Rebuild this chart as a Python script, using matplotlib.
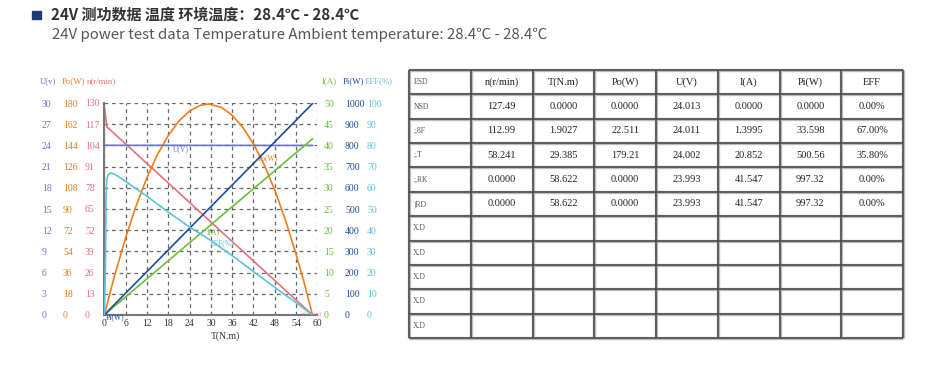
import numpy as np
import matplotlib
matplotlib.use('Agg')
import matplotlib.pyplot as plt
from matplotlib.patches import Rectangle

# ---- curve data (T in N.m) ----
T_n = [0, 0.7, 1.9027, 29.385, 58.622]
n_val = [127.49, 115.4, 112.99, 58.241, 0]

T_po = [0, 1.9027, 3, 6, 9, 12, 15, 18, 21, 24, 27, 29.385, 33, 36, 39, 42, 45, 48, 51, 54, 56, 58.622]
po_val = [0, 22.511, 34.8, 65.8, 93.2, 116.8, 136.5, 152.5, 164.7, 173.2, 178.0, 179.21, 176.2,
          169.6, 159.3, 145.2, 127.6, 106.0, 80.6, 51.5, 30.4, 0]

T_u = [0, 1.9027, 29.385, 58.622]
u_val = [24.013, 24.011, 24.002, 23.993]

T_i = [0, 1.9027, 29.385, 58.622]
i_val = [0, 1.3995, 20.852, 41.547]

T_pi = [0, 1.9027, 29.385, 58.622]
pi_val = [0, 33.598, 500.56, 997.32]

T_eff = [0, 0.35, 0.45, 0.65, 1.0, 1.7, 3, 6, 12, 18, 24, 29.385, 36, 42, 48, 54, 58.622]
eff_val = [0, 30, 55, 63.5, 66, 67, 66.3, 63, 56, 48.5, 41.5, 35.8, 28, 20.5, 13, 5.8, 0]

# axis scales
n_ticks = np.arange(0, 131, 13)
po_ticks = np.arange(0, 181, 18)
u_ticks = np.arange(0, 31, 3)
i_ticks = np.arange(0, 51, 5)
pi_ticks = np.arange(0, 1001, 100)
eff_ticks = np.arange(0, 101, 10)
t_ticks = np.arange(0, 61, 6)

# table
col_head = ['ESD', 'n(r/min)', 'T(N.m)', 'Po(W)', 'U(V)', 'I(A)', 'Pi(W)', 'EFF']
row_head = ['NSD', ';,8F', ';,T', ';,RK', ')RD', 'X.D', 'X.D', 'X.D', 'X.D', 'X.D']
table_rows = [
    ['127.49', '0.0000', '0.0000', '24.013', '0.0000', '0.0000', '0.00%'],
    ['112.99', '1.9027', '22.511', '24.011', '1.3995', '33.598', '67.00%'],
    ['58.241', '29.385', '179.21', '24.002', '20.852', '500.56', '35.80%'],
    ['0.0000', '58.622', '0.0000', '23.993', '41.547', '997.32', '0.00%'],
    ['0.0000', '58.622', '0.0000', '23.993', '41.547', '997.32', '0.00%'],
]

c_n = '#E8707A'
c_po = '#F07D1E'
c_u = '#6C74C8'
c_i = '#6DBE3A'
c_pi = '#1E4C9E'
c_eff = '#5CC4D6'

W, H = 943, 374
serif = 'Liberation Serif'
tick_fs = 7


def fx(x):
    return x / W


def fy(y):
    return 1 - y / H


def pt(px):
    return px * 72 / 100.0


fig = plt.figure(figsize=(W / 100, H / 100), dpi=100)

# ---- title ----
fig.patches.append(Rectangle((fx(32.3), fy(19.3)), fx(8.4), 8.3 / H, transform=fig.transFigure,
                             color='#1B3B7A', zorder=3))
fig.text(fx(51.2), fy(15), '24V 测功数据 温度 环境温度：28.4℃ - 28.4℃', fontsize=10.85,
         fontweight='bold', color='#333333', va='center', ha='left',
         family=['Noto Sans CJK SC', 'DejaVu Sans'])
fig.text(fx(51.5), fy(34.5), '24V power test data Temperature Ambient temperature: 28.4℃ - 28.4℃',
         fontsize=10.8, color='#555555', va='center', ha='left',
         family=['Noto Sans CJK SC', 'DejaVu Sans'])

# ---- chart ----
x0, x1, y0, y1 = 104.4, 317.4, 103, 315
ax = fig.add_axes([fx(x0), fy(y1), (x1 - x0) / W, (y1 - y0) / H])
ax.set_xlim(0, 60)
ax.set_ylim(0, 130)
ax.set_xticks(t_ticks, [str(v) for v in t_ticks], fontsize=tick_fs, family=serif, color='#333333')
ax.set_yticks(n_ticks, [str(v) for v in n_ticks], ha='left', fontsize=tick_fs, family=serif, color=c_n)
ax.tick_params(axis='y', length=0, pad=pt(x0 - 85))
ax.tick_params(axis='x', length=0, pad=3)
ax.grid(True, color='#666666', linestyle=(0, (3, 3)), linewidth=0.9)
for s in ['top', 'right']:
    ax.spines[s].set_visible(False)
for s in ['left', 'bottom']:
    ax.spines[s].set_color('#777777')
    ax.spines[s].set_linewidth(1.5)
ax.set_xlabel('T(N.m)', fontsize=tick_fs, family=serif, color='#333333')
ax.xaxis.set_label_coords(0.566, -0.079)


def make_twin(ticks, color, side, pad_px):
    t = ax.twinx()
    t.set_ylim(ticks[0], ticks[-1])
    for s in t.spines.values():
        s.set_visible(False)
    if side == 'left':
        t.yaxis.tick_left()
    t.set_yticks(ticks, [str(v) for v in ticks], ha='left', fontsize=tick_fs, family=serif, color=color)
    t.tick_params(axis='y', length=0, pad=pt(pad_px))
    return t


ax_po = make_twin(po_ticks, c_po, 'left', x0 - 63)
ax_u = make_twin(u_ticks, c_u, 'left', x0 - 42)
ax_i = make_twin(i_ticks, c_i, 'right', 324 - x1)
ax_pi = make_twin(pi_ticks, c_pi, 'right', 345 - x1)
ax_eff = make_twin(eff_ticks, c_eff, 'right', 367 - x1)

lw = 1.2
ax.plot(T_n, n_val, color=c_n, lw=lw)
ax_po.plot(T_po, po_val, color=c_po, lw=lw)
ax_u.plot(T_u, u_val, color=c_u, lw=lw)
ax_i.plot(T_i, i_val, color=c_i, lw=lw)
ax_pi.plot(T_pi, pi_val, color=c_pi, lw=lw)
ax_eff.plot(T_eff, eff_val, color=c_eff, lw=lw)

lab_fs = 5.5
ax_u.text(19.3, 23.4, 'U(V)', fontsize=lab_fs, family=serif, color=c_u, va='center')
ax_po.text(43.3, 133, 'Po(W)', fontsize=lab_fs, family=serif, color=c_po, va='center')
ax_i.text(28.8, 19.5, 'I(A)', fontsize=lab_fs, family=serif, color=c_i, va='center')
ax_eff.text(29.7, 33.8, 'EFF(%)', fontsize=lab_fs, family=serif, color=c_eff, va='center')
ax_pi.text(0.45, -8, 'Pi(W)', fontsize=lab_fs, family=serif, color=c_pi, va='center')
ax.text(55.3, 0.5, 'n(r/min)', fontsize=4.6, family=serif, color=c_n, va='center', alpha=0.7)

# column headers
hy = fy(80.7)
for x, s, c in [(40, 'U(v)', c_u), (61.7, 'Po(W)', c_po), (87.3, 'n(r/min)', c_n),
                (321.7, 'I(A)', c_i), (343, 'Pi(W)', c_pi), (365, 'EFF(%)', c_eff)]:
    fig.text(fx(x), hy, s, fontsize=6.3, family=serif, color=c, va='center', ha='left')

# ---- table ----
tx0, tx1, ty0, ty1 = 409, 903, 70, 338
tab = fig.add_axes([fx(tx0), fy(ty1), (tx1 - tx0) / W, (ty1 - ty0) / H])
ncol = len(col_head)
nrow = len(row_head) + 1
tab.set_xlim(0, ncol)
tab.set_ylim(nrow, 0)
tab.axis('off')
tab.hlines(np.arange(nrow + 1), 0, ncol, color='#bbbbbb', lw=2.4, clip_on=False)
tab.vlines(np.arange(ncol + 1), 0, nrow, color='#bbbbbb', lw=2.4, clip_on=False)
tab.hlines(np.arange(nrow + 1), 0, ncol, color='#444444', lw=1.1, clip_on=False)
tab.vlines(np.arange(ncol + 1), 0, nrow, color='#444444', lw=1.1, clip_on=False)

for j, h in enumerate(col_head):
    if j == 0:
        tab.text(0.07, 0.5, h, fontsize=5.5, family=serif, color='#555555', va='center', ha='left')
    else:
        tab.text(j + 0.5, 0.5, h, fontsize=7.5, family=serif, color='#222222', va='center', ha='center')
for i, r in enumerate(row_head):
    tab.text(0.07, i + 1.5, r, fontsize=5.5, family=serif, color='#555555', va='center', ha='left')
for i, row in enumerate(table_rows):
    for j, v in enumerate(row):
        tab.text(j + 1.5, i + 1.5, v, fontsize=7.5, family=serif, color='#222222', va='center', ha='center')

fig.savefig('out.png', dpi=100)
